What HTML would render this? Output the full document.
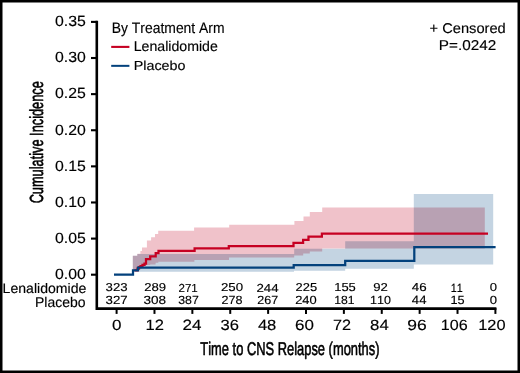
<!DOCTYPE html>
<html><head><meta charset="utf-8"><style>
html,body{margin:0;padding:0;background:#fff;width:520px;height:373px;overflow:hidden}
svg{display:block}
text{font-family:"Liberation Sans",sans-serif;font-kerning:none;text-rendering:geometricPrecision;fill:#000}

</style></head><body>
<svg width="520" height="373" viewBox="0 0 520 373">
<rect x="0" y="0" width="520" height="373" fill="#fff"/>
<g><path d="M132.80,255.80 L137.30,255.80 L137.30,253.80 L140.40,253.80 L140.40,251.10 L142.00,251.10 L142.00,247.40 L146.90,247.40 L146.90,240.40 L151.10,240.40 L151.10,237.30 L155.00,237.30 L155.00,233.90 L158.20,233.90 L158.20,230.70 L194.10,230.70 L194.10,227.60 L229.20,227.60 L229.20,224.70 L294.40,224.70 L294.40,221.00 L303.50,221.00 L303.50,216.60 L309.80,216.60 L309.80,212.10 L322.20,212.10 L322.20,207.60 L484.80,207.60 L484.80,248.60 L322.20,248.60 L322.20,251.50 L309.80,251.50 L309.80,253.50 L303.20,253.50 L303.20,255.40 L294.20,255.40 L294.20,257.40 L229.00,257.40 L229.00,260.10 L194.40,260.10 L194.40,261.70 L158.30,261.70 L158.30,262.80 L155.60,262.80 L155.60,264.40 L150.20,264.40 L150.20,265.00 L146.00,265.00 L146.00,265.60 L140.70,265.60 L140.70,266.50 L138.00,266.50 L138.00,270.50 L132.80,270.50 Z" fill="#f0c2ca" style="mix-blend-mode:multiply"/><path d="M132.80,255.80 L137.30,255.80 L137.30,253.90 L294.20,253.90 L294.20,248.80 L345.20,248.80 L345.20,241.30 L413.80,241.30 L413.80,194.00 L493.20,194.00 L493.20,264.50 L413.80,264.50 L413.80,268.70 L345.20,268.70 L345.20,270.80 L294.00,270.80 L294.00,271.80 L139.20,271.80 L139.20,270.40 L132.80,270.40 Z" fill="#c4d4e2" style="mix-blend-mode:multiply"/><path d="M134.50,270.30 L137.50,270.30 L137.50,268.60 L139.00,268.60 L139.00,267.20 L140.50,267.20 L140.50,266.10 L142.50,266.10 L142.50,264.80 L144.50,264.80 L144.50,263.60 L146.00,263.60 L146.00,259.00 L150.20,259.00 L150.20,256.40 L155.70,256.40 L155.70,253.10 L158.50,253.10 L158.50,250.90 L194.60,250.90 L194.60,248.30 L228.80,248.30 L228.80,246.00 L293.50,246.00 L293.50,242.80 L303.10,242.80 L303.10,239.80 L308.50,239.80 L308.50,236.60 L321.90,236.60 L321.90,233.60 L488.00,233.60" fill="none" stroke="#c60022" stroke-width="2.25" stroke-linejoin="miter" stroke-linecap="butt"/><path d="M114.00,274.70 L133.00,274.70 L133.00,270.30 L138.00,270.30 L138.00,267.60 L293.70,267.60 L293.70,265.10 L345.20,265.10 L345.20,260.80 L414.30,260.80 L414.30,247.00 L495.60,247.00" fill="none" stroke="#03417c" stroke-width="2.25" stroke-linejoin="miter" stroke-linecap="butt"/></g>
<path d="M96.8,20.8 V308.6 H496.4" fill="none" stroke="#000" stroke-width="2.6" stroke-linecap="butt" stroke-linejoin="miter"/><line x1="91" y1="21.90" x2="97" y2="21.90" stroke="#000" stroke-width="2.1"/><line x1="91" y1="58.01" x2="97" y2="58.01" stroke="#000" stroke-width="2.1"/><line x1="91" y1="94.13" x2="97" y2="94.13" stroke="#000" stroke-width="2.1"/><line x1="91" y1="130.24" x2="97" y2="130.24" stroke="#000" stroke-width="2.1"/><line x1="91" y1="166.36" x2="97" y2="166.36" stroke="#000" stroke-width="2.1"/><line x1="91" y1="202.47" x2="97" y2="202.47" stroke="#000" stroke-width="2.1"/><line x1="91" y1="238.59" x2="97" y2="238.59" stroke="#000" stroke-width="2.1"/><line x1="91" y1="274.70" x2="97" y2="274.70" stroke="#000" stroke-width="2.1"/><line x1="116.60" y1="308" x2="116.60" y2="313.9" stroke="#000" stroke-width="2.0"/><line x1="154.48" y1="308" x2="154.48" y2="313.9" stroke="#000" stroke-width="2.0"/><line x1="192.36" y1="308" x2="192.36" y2="313.9" stroke="#000" stroke-width="2.0"/><line x1="230.24" y1="308" x2="230.24" y2="313.9" stroke="#000" stroke-width="2.0"/><line x1="268.12" y1="308" x2="268.12" y2="313.9" stroke="#000" stroke-width="2.0"/><line x1="306.00" y1="308" x2="306.00" y2="313.9" stroke="#000" stroke-width="2.0"/><line x1="343.88" y1="308" x2="343.88" y2="313.9" stroke="#000" stroke-width="2.0"/><line x1="381.76" y1="308" x2="381.76" y2="313.9" stroke="#000" stroke-width="2.0"/><line x1="419.64" y1="308" x2="419.64" y2="313.9" stroke="#000" stroke-width="2.0"/><line x1="457.52" y1="308" x2="457.52" y2="313.9" stroke="#000" stroke-width="2.0"/><line x1="495.40" y1="308" x2="495.40" y2="313.9" stroke="#000" stroke-width="2.0"/><line x1="111.2" y1="46.9" x2="129.4" y2="46.9" stroke="#c60022" stroke-width="2.1"/><line x1="111.2" y1="65.85" x2="129.4" y2="65.85" stroke="#03417c" stroke-width="2.0"/>
<text transform="translate(54.96,26.18) scale(1.0734,1)" font-size="14.760" stroke="#000" stroke-width="0.150" stroke-linejoin="round">0.35</text><text transform="translate(54.96,62.30) scale(1.0717,1)" font-size="14.760" stroke="#000" stroke-width="0.150" stroke-linejoin="round">0.30</text><text transform="translate(54.96,98.41) scale(1.0734,1)" font-size="14.760" stroke="#000" stroke-width="0.150" stroke-linejoin="round">0.25</text><text transform="translate(54.96,134.52) scale(1.0717,1)" font-size="14.760" stroke="#000" stroke-width="0.150" stroke-linejoin="round">0.20</text><text transform="translate(54.96,170.64) scale(1.0734,1)" font-size="14.760" stroke="#000" stroke-width="0.150" stroke-linejoin="round">0.15</text><text transform="translate(54.96,206.75) scale(1.0717,1)" font-size="14.760" stroke="#000" stroke-width="0.150" stroke-linejoin="round">0.10</text><text transform="translate(54.96,242.87) scale(1.0734,1)" font-size="14.760" stroke="#000" stroke-width="0.150" stroke-linejoin="round">0.05</text><text transform="translate(54.96,278.98) scale(1.0717,1)" font-size="14.760" stroke="#000" stroke-width="0.150" stroke-linejoin="round">0.00</text><text transform="translate(112.01,329.78) scale(1.1551,1)" font-size="14.760" stroke="#000" stroke-width="0.150" stroke-linejoin="round">0</text><text transform="translate(145.41,329.93) scale(1.1082,1)" font-size="14.966" stroke="#000" stroke-width="0.150" stroke-linejoin="round">12</text><text transform="translate(182.42,329.93) scale(1.1420,1)" font-size="14.966" stroke="#000" stroke-width="0.150" stroke-linejoin="round">24</text><text transform="translate(220.44,329.78) scale(1.1212,1)" font-size="14.760" stroke="#000" stroke-width="0.150" stroke-linejoin="round">36</text><text transform="translate(257.89,329.78) scale(1.1239,1)" font-size="14.760" stroke="#000" stroke-width="0.150" stroke-linejoin="round">48</text><text transform="translate(295.11,329.78) scale(1.1497,1)" font-size="14.760" stroke="#000" stroke-width="0.150" stroke-linejoin="round">60</text><text transform="translate(332.94,329.93) scale(1.0875,1)" font-size="14.966" stroke="#000" stroke-width="0.150" stroke-linejoin="round">72</text><text transform="translate(370.05,329.78) scale(1.1373,1)" font-size="14.760" stroke="#000" stroke-width="0.150" stroke-linejoin="round">84</text><text transform="translate(407.26,329.78) scale(1.1839,1)" font-size="14.760" stroke="#000" stroke-width="0.150" stroke-linejoin="round">96</text><text transform="translate(440.75,329.78) scale(1.0918,1)" font-size="14.760" stroke="#000" stroke-width="0.150" stroke-linejoin="round">106</text><text transform="translate(478.23,329.78) scale(1.1101,1)" font-size="14.760" stroke="#000" stroke-width="0.150" stroke-linejoin="round">120</text><text transform="translate(105.57,291.41) scale(1.1472,1)" font-size="11.511" stroke="#000" stroke-width="0.150" stroke-linejoin="round">323</text><text transform="translate(144.21,291.41) scale(1.1420,1)" font-size="11.511" stroke="#000" stroke-width="0.150" stroke-linejoin="round">289</text><text transform="translate(178.49,291.53) scale(0.9909,1)" font-size="11.672" stroke="#000" stroke-width="0.150" stroke-linejoin="round">271</text><text transform="translate(220.91,291.41) scale(1.1525,1)" font-size="11.511" stroke="#000" stroke-width="0.150" stroke-linejoin="round">250</text><text transform="translate(256.41,291.53) scale(1.1404,1)" font-size="11.672" stroke="#000" stroke-width="0.150" stroke-linejoin="round">244</text><text transform="translate(295.53,291.41) scale(1.1216,1)" font-size="11.511" stroke="#000" stroke-width="0.150" stroke-linejoin="round">225</text><text transform="translate(334.19,291.41) scale(1.1072,1)" font-size="11.680" stroke="#000" stroke-width="0.150" stroke-linejoin="round">155</text><text transform="translate(373.16,291.41) scale(1.1424,1)" font-size="11.511" stroke="#000" stroke-width="0.150" stroke-linejoin="round">92</text><text transform="translate(411.87,291.41) scale(1.1592,1)" font-size="11.511" stroke="#000" stroke-width="0.150" stroke-linejoin="round">46</text><text transform="translate(450.65,291.53) scale(0.9106,1)" font-size="11.846" stroke="#000" stroke-width="0.150" stroke-linejoin="round">11</text><text transform="translate(489.66,291.41) scale(1.1358,1)" font-size="11.511" stroke="#000" stroke-width="0.150" stroke-linejoin="round">0</text><text transform="translate(105.57,303.51) scale(1.1242,1)" font-size="11.794" stroke="#000" stroke-width="0.150" stroke-linejoin="round">327</text><text transform="translate(143.56,303.51) scale(1.1461,1)" font-size="11.794" stroke="#000" stroke-width="0.150" stroke-linejoin="round">308</text><text transform="translate(178.21,303.51) scale(1.0437,1)" font-size="11.794" stroke="#000" stroke-width="0.150" stroke-linejoin="round">387</text><text transform="translate(221.44,303.51) scale(1.0635,1)" font-size="11.794" stroke="#000" stroke-width="0.150" stroke-linejoin="round">278</text><text transform="translate(257.24,303.51) scale(1.0627,1)" font-size="11.794" stroke="#000" stroke-width="0.150" stroke-linejoin="round">267</text><text transform="translate(295.13,303.51) scale(1.0927,1)" font-size="11.794" stroke="#000" stroke-width="0.150" stroke-linejoin="round">240</text><text transform="translate(334.25,303.51) scale(1.0300,1)" font-size="11.794" stroke="#000" stroke-width="0.150" stroke-linejoin="round">181</text><text transform="translate(370.12,303.51) scale(1.0618,1)" font-size="11.794" stroke="#000" stroke-width="0.150" stroke-linejoin="round">110</text><text transform="translate(411.87,303.62) scale(1.0843,1)" font-size="12.137" stroke="#000" stroke-width="0.150" stroke-linejoin="round">44</text><text transform="translate(450.51,303.51) scale(1.0633,1)" font-size="11.967" stroke="#000" stroke-width="0.150" stroke-linejoin="round">15</text><text transform="translate(489.66,303.51) scale(1.1086,1)" font-size="11.794" stroke="#000" stroke-width="0.150" stroke-linejoin="round">0</text><text transform="translate(2.62,293.33) scale(1.0244,1)" font-size="13.740" stroke="#000" stroke-width="0.150" stroke-linejoin="round">Lenalidomide</text><text transform="translate(35.03,306.63) scale(0.9894,1)" font-size="14.148" stroke="#000" stroke-width="0.150" stroke-linejoin="round">Placebo</text><text transform="translate(111.73,32.56) scale(0.9131,1)" font-size="15.243" stroke="#000" stroke-width="0.150" stroke-linejoin="round">By Treatment Arm</text><text transform="translate(133.71,51.09) scale(1.0048,1)" font-size="14.094" stroke="#000" stroke-width="0.150" stroke-linejoin="round">Lenalidomide</text><text transform="translate(133.70,69.80) scale(1.0914,1)" font-size="13.140" stroke="#000" stroke-width="0.150" stroke-linejoin="round">Placebo</text><text transform="translate(429.56,32.54) scale(1.0353,1)" font-size="14.162" stroke="#000" stroke-width="0.150" stroke-linejoin="round">+ Censored</text><text transform="translate(438.82,50.39) scale(1.0768,1)" font-size="14.195" stroke="#000" stroke-width="0.150" stroke-linejoin="round">P=.0242</text><text transform="translate(200.31,355.30) scale(0.6995,1)" font-size="18.459" stroke="#000" stroke-width="0.600" stroke-linejoin="round">Time to CNS Relapse (months)</text><text transform="translate(43.30,203.35) rotate(-90) scale(0.6723,1)" font-size="19.000" stroke="#000" stroke-width="0.600" stroke-linejoin="round">Cumulative Incidence</text>
<rect x="1.25" y="1.25" width="517.5" height="370.5" fill="none" stroke="#000" stroke-width="2.5"/>
</svg>
</body></html>
